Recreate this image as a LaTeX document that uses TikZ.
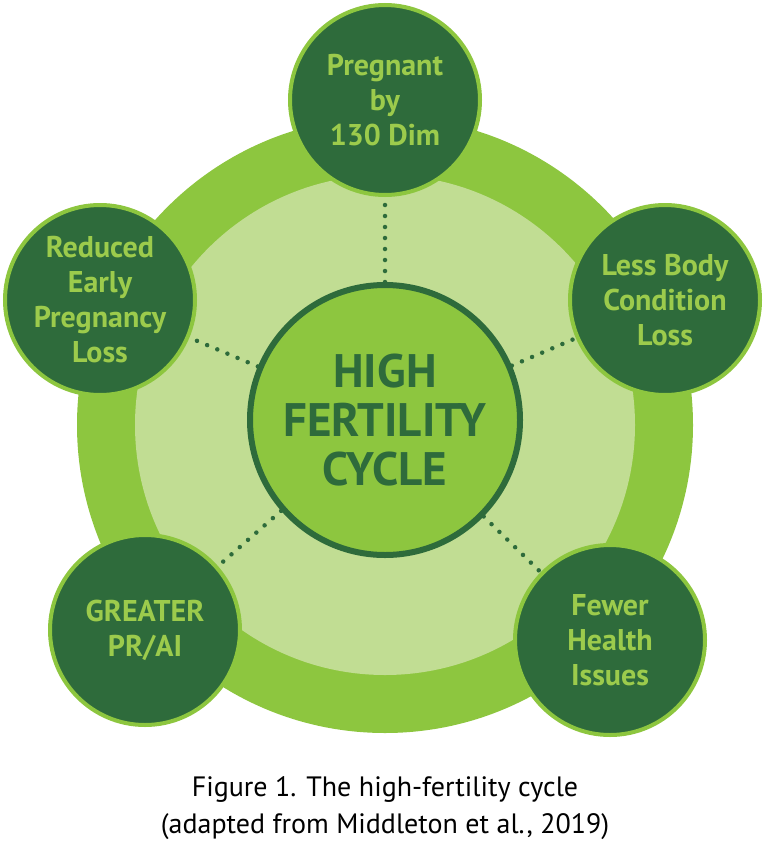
\documentclass[tikz,border=0pt]{standalone}
\usepackage{fontspec}
\setmainfont{PT Sans}
\definecolor{ring}{HTML}{8DC63F}
\definecolor{inner}{HTML}{C1DD93}
\definecolor{dark}{HTML}{2E6B3B}
\definecolor{lite}{HTML}{9CCB4C}
\begin{document}
\begin{tikzpicture}[x=1pt,y=-1pt,
  sat/.style={circle,fill=dark,draw=ring,line width=4pt,minimum size=190pt,inner sep=0pt,
    text=lite,font=\fontsize{30}{35}\selectfont\bfseries,align=center},
  link/.style={dark,line width=4.5pt,dash pattern=on 0pt off 11pt,line cap=round}]
\useasboundingbox (0,0) rectangle (770,851);
\fill[ring] (385,425) circle (308);
\fill[inner] (385,425) circle (250);
\node[circle,fill=ring,draw=dark,line width=6pt,minimum size=270pt,inner sep=0pt,
  text=dark,font=\fontsize{47}{49}\selectfont\bfseries,align=center] (c) at (385,420) {HIGH\\FERTILITY\\CYCLE};
\node[sat] (t) at (385,100) {Pregnant\\by\\130 Dim};
\node[sat] (l) at (100,300) {Reduced\\Early\\Pregnancy\\Loss};
\node[sat] (r) at (665,300) {Less Body\\Condition\\Loss};
\node[sat] (bl) at (145,630) {GREATER\\PR/AI};
\node[sat] (br) at (610,640) {Fewer\\Health\\Issues};
\foreach \s in {t,l,r,bl,br}{\draw[link] (c) -- (\s);}
\node[font=\fontsize{28}{37}\selectfont,align=center] (cap) at (385,808) {Figure 1. The high-fertility cycle\\(adapted from Middleton et al., 2019)};
\end{tikzpicture}
\end{document}
